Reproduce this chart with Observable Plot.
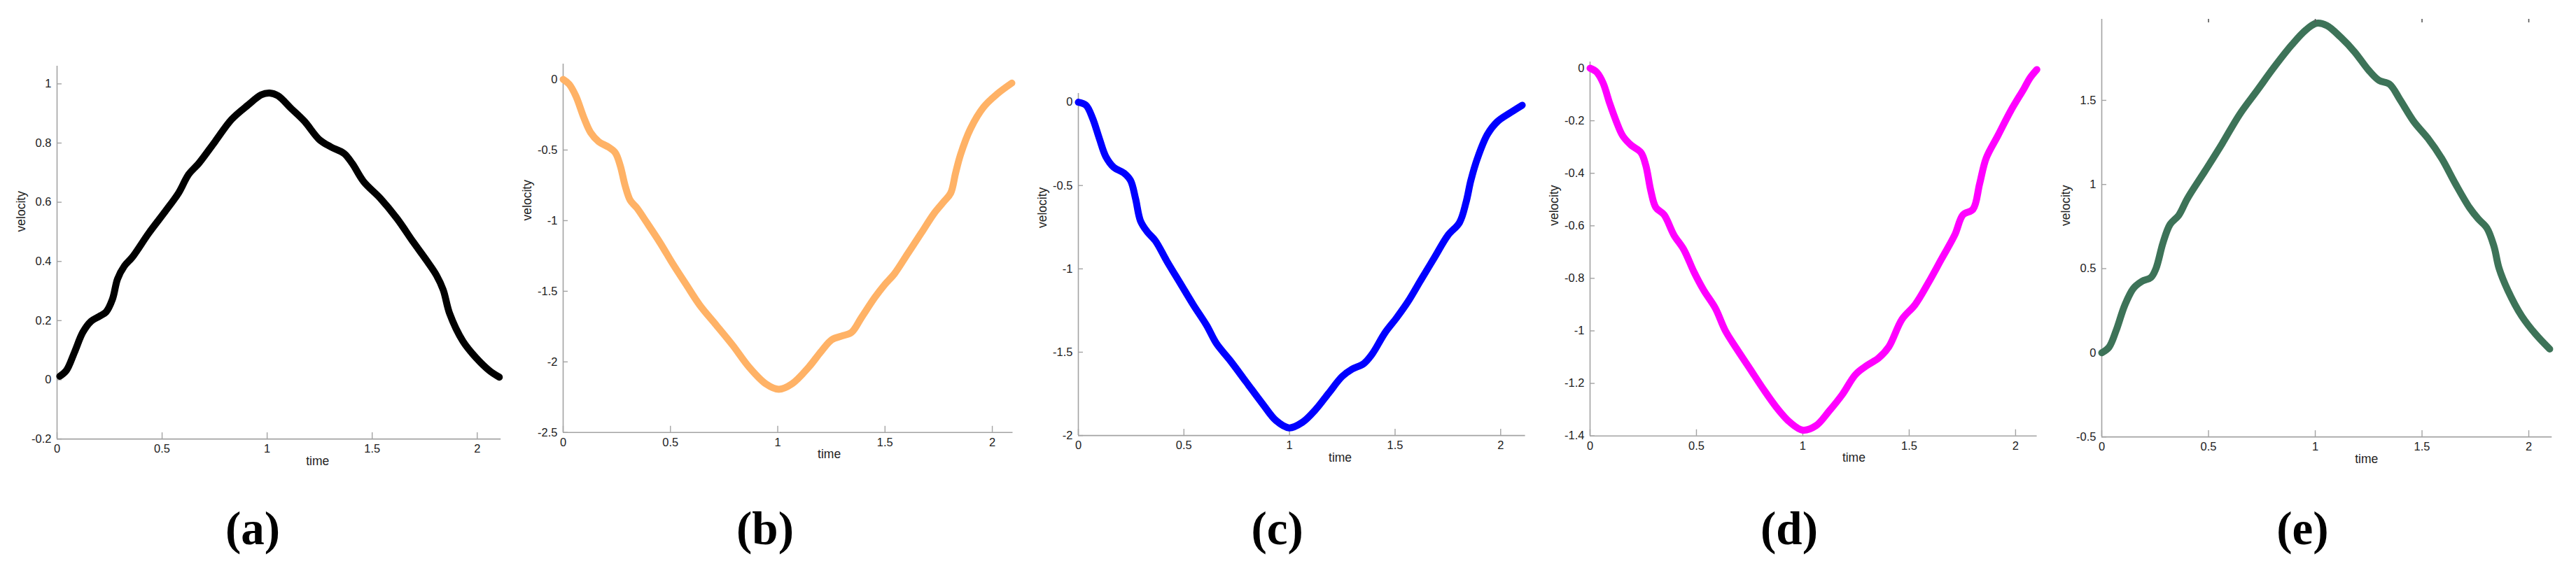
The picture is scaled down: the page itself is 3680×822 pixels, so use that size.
<!DOCTYPE html>
<html>
<head>
<meta charset="utf-8">
<script src="https://cdn.jsdelivr.net/npm/d3@7"></script>
<script src="https://cdn.jsdelivr.net/npm/@observablehq/plot@0.6"></script>
<style>
  html, body { margin: 0; padding: 0; background: #fff; }
  #root { position: relative; width: 3680px; height: 822px; background: #fff; overflow: hidden; }
  .panel { position: absolute; }
  .cap { position: absolute; font-family: "Liberation Serif", "Times New Roman", serif; font-weight: bold;
         font-size: 67px; line-height: 67px; white-space: nowrap; color: #000; transform: translateX(-50%); }
</style>
</head>
<body>
<div id="root"></div>
<script>
// ---------- data ----------
const timeA = [0.013, 0.044, 0.083, 0.123, 0.162, 0.2, 0.233, 0.264, 0.288, 0.32, 0.359, 0.437, 0.516, 0.579, 0.626, 0.674, 0.752, 0.831, 0.91, 0.972, 1.012, 1.051, 1.114, 1.177, 1.248, 1.303, 1.366, 1.405, 1.46, 1.539, 1.618, 1.696, 1.759, 1.806, 1.838, 1.869, 1.932, 1.995, 2.058, 2.105];
const velA  = [0.012, 0.031, 0.093, 0.161, 0.198, 0.214, 0.229, 0.273, 0.341, 0.384, 0.415, 0.496, 0.57, 0.632, 0.694, 0.731, 0.805, 0.88, 0.929, 0.963, 0.969, 0.96, 0.917, 0.874, 0.812, 0.787, 0.765, 0.731, 0.669, 0.613, 0.545, 0.465, 0.403, 0.353, 0.304, 0.223, 0.13, 0.074, 0.031, 0.009];

const timeB = [0, 0.028, 0.059, 0.097, 0.128, 0.166, 0.212, 0.243, 0.266, 0.289, 0.313, 0.343, 0.389, 0.451, 0.513, 0.574, 0.636, 0.713, 0.79, 0.867, 0.944, 1.005, 1.067, 1.144, 1.205, 1.252, 1.298, 1.344, 1.39, 1.452, 1.498, 1.544, 1.606, 1.668, 1.729, 1.775, 1.806, 1.829, 1.852, 1.898, 1.96, 2.022, 2.091];
const velB  = [0, -0.034, -0.117, -0.273, -0.376, -0.441, -0.48, -0.519, -0.61, -0.753, -0.857, -0.909, -1.012, -1.155, -1.311, -1.454, -1.597, -1.739, -1.882, -2.038, -2.155, -2.194, -2.155, -2.038, -1.921, -1.843, -1.817, -1.791, -1.687, -1.545, -1.454, -1.376, -1.233, -1.09, -0.948, -0.864, -0.805, -0.662, -0.532, -0.35, -0.195, -0.104, -0.026];

const timeC = [0, 0.036, 0.067, 0.099, 0.13, 0.169, 0.216, 0.247, 0.271, 0.294, 0.326, 0.365, 0.419, 0.482, 0.545, 0.607, 0.654, 0.717, 0.795, 0.873, 0.936, 0.998, 1.061, 1.124, 1.186, 1.249, 1.296, 1.351, 1.39, 1.453, 1.507, 1.562, 1.624, 1.687, 1.75, 1.805, 1.836, 1.859, 1.89, 1.937, 1.984, 2.047, 2.102];
const velC  = [0, -0.018, -0.095, -0.216, -0.326, -0.392, -0.425, -0.469, -0.579, -0.711, -0.777, -0.832, -0.953, -1.085, -1.217, -1.338, -1.448, -1.547, -1.679, -1.811, -1.91, -1.954, -1.921, -1.844, -1.745, -1.646, -1.602, -1.569, -1.514, -1.382, -1.294, -1.195, -1.063, -0.931, -0.799, -0.722, -0.601, -0.469, -0.337, -0.194, -0.117, -0.062, -0.018];

const timeD = [0, 0.03, 0.061, 0.092, 0.123, 0.154, 0.193, 0.239, 0.262, 0.286, 0.309, 0.348, 0.394, 0.441, 0.488, 0.534, 0.589, 0.635, 0.689, 0.752, 0.814, 0.876, 0.938, 1.0, 1.062, 1.124, 1.186, 1.248, 1.303, 1.357, 1.404, 1.466, 1.528, 1.59, 1.652, 1.714, 1.753, 1.8, 1.831, 1.862, 1.916, 1.978, 2.04, 2.068, 2.1];
const velD  = [0, -0.014, -0.056, -0.133, -0.202, -0.258, -0.293, -0.321, -0.37, -0.468, -0.53, -0.558, -0.635, -0.691, -0.775, -0.845, -0.914, -0.998, -1.068, -1.145, -1.221, -1.291, -1.347, -1.378, -1.361, -1.305, -1.242, -1.166, -1.131, -1.103, -1.061, -0.956, -0.9, -0.817, -0.726, -0.635, -0.558, -0.537, -0.44, -0.342, -0.258, -0.161, -0.077, -0.037, -0.005];

const timeE = [0, 0.034, 0.067, 0.108, 0.148, 0.189, 0.23, 0.254, 0.287, 0.32, 0.361, 0.401, 0.483, 0.564, 0.646, 0.728, 0.809, 0.891, 0.956, 1.005, 1.054, 1.119, 1.184, 1.25, 1.299, 1.348, 1.397, 1.462, 1.527, 1.592, 1.657, 1.723, 1.763, 1.804, 1.837, 1.861, 1.902, 1.967, 2.033, 2.098];
const velE  = [0, 0.033, 0.131, 0.283, 0.382, 0.425, 0.447, 0.501, 0.654, 0.763, 0.818, 0.916, 1.079, 1.243, 1.417, 1.559, 1.7, 1.831, 1.918, 1.958, 1.945, 1.875, 1.788, 1.679, 1.618, 1.596, 1.504, 1.373, 1.275, 1.155, 1.003, 0.861, 0.796, 0.741, 0.632, 0.501, 0.371, 0.218, 0.109, 0.022];

const ticksX = [0, 0.5, 1, 1.5, 2];
const ticksA = [-0.2, 0, 0.2, 0.4, 0.6, 0.8, 1];
const ticksB = [-2.5, -2, -1.5, -1, -0.5, 0];
const ticksC = [-2, -1.5, -1, -0.5, 0];
const ticksD = [-1.4, -1.2, -1, -0.8, -0.6, -0.4, -0.2, 0];
const ticksE = [-0.5, 0, 0.5, 1, 1.5];
const captions = ["(a)", "(b)", "(c)", "(d)", "(e)"];
const xLabel = "time";
const yLabel = "velocity";

// ---------- layout / style ----------
const panels = [
  {time: timeA, vel: velA, ticks: ticksA, cap: captions[0], color: "#000000",
   left: 81.2, right: 715.4, top: 94.4, bottom: 627.5, xmax: 2.113, ydomain: [-0.2, 1.06], ylab: 0.5, capX: 361},
  {time: timeB, vel: velB, ticks: ticksB, cap: captions[1], color: "#ffb266",
   left: 803.5, right: 1446, top: 90.7, bottom: 617.5, xmax: 2.096, ydomain: [-2.5, 0.109], ylab: -1.0, capX: 1093},
  {time: timeC, vel: velC, ticks: ticksC, cap: captions[2], color: "#0000ff",
   left: 1540, right: 2178.6, top: 132.6, bottom: 621.7, xmax: 2.117, ydomain: [-2, 0.053], ylab: -0.755, capX: 1824.6},
  {time: timeD, vel: velD, ticks: ticksD, cap: captions[3], color: "#ff00ff",
   left: 2271.4, right: 2910, top: 88, bottom: 622.7, xmax: 2.101, ydomain: [-1.4, 0.024], ylab: -0.6, capX: 2556},
  {time: timeE, vel: velE, ticks: ticksE, cap: captions[4], color: "#3d7358", topTicks: true,
   left: 3001.5, right: 3644.8, top: 26.7, bottom: 623.8, xmax: 2.109, ydomain: [-0.5, 1.982], ylab: 0.754, capX: 3289.5}
];
const xLabelAt = 1.24;
const axisColor = "#a3a3a3";
const textColor = "#222";
const ML = 90, MR = 30, MT = 20, MB = 60;
const root = document.getElementById("root");

for (const p of panels) {
  const plotW = p.right - p.left, plotH = p.bottom - p.top;
  const data = p.time.map((t, i) => ({t, v: p.vel[i]}));
  const marks = [
    Plot.ruleX([0], {stroke: axisColor, strokeWidth: 1.6}),
    Plot.ruleY([p.ydomain[0]], {stroke: axisColor, strokeWidth: 1.6}),
    Plot.tickY(p.ticks, {y: d => d, stroke: axisColor, strokeWidth: 1.4, insetRight: plotW - 7}),
    Plot.tickX(ticksX, {x: d => d, stroke: axisColor, strokeWidth: 1.4, insetTop: plotH - 9}),
    Plot.axisY(p.ticks, {tickSize: 0, tickPadding: 8, fontSize: 16.5, color: textColor,
                         tickFormat: d => String(d), label: null}),
    Plot.axisX(ticksX, {tickSize: 0, tickPadding: 8, fontSize: 16.5, color: textColor,
                        tickFormat: d => String(d), label: null}),
    Plot.line(data, {x: "t", y: "v", stroke: p.color, strokeWidth: 10, curve: "catmull-rom"}),
    Plot.text([xLabel], {x: xLabelAt, frameAnchor: "bottom", dy: 37, fontSize: 17.5, fill: textColor}),
    Plot.text([yLabel], {y: p.ylab, frameAnchor: "left", dx: -51, rotate: -90, fontSize: 17.5, fill: textColor})
  ];
  if (p.topTicks) {
    marks.push(Plot.tickX(ticksX.slice(1), {x: d => d, stroke: "#555", strokeWidth: 1.6, insetBottom: plotH - 5}));
  }
  const fig = Plot.plot({
    width: ML + plotW + MR, height: MT + plotH + MB,
    marginLeft: ML, marginRight: MR, marginTop: MT, marginBottom: MB,
    x: {domain: [0, p.xmax]},
    y: {domain: p.ydomain},
    style: {background: "transparent", overflow: "visible", maxWidth: "none",
            fontFamily: "'Liberation Sans', Arial, Helvetica, sans-serif"},
    marks
  });
  const wrap = document.createElement("div");
  wrap.className = "panel";
  wrap.style.left = (p.left - ML) + "px";
  wrap.style.top = (p.top - MT) + "px";
  wrap.appendChild(fig);
  root.appendChild(wrap);

  const cap = document.createElement("div");
  cap.className = "cap";
  cap.textContent = p.cap;
  cap.style.left = p.capX + "px";
  cap.style.top = (778 - 0.8375 * 67) + "px";
  root.appendChild(cap);
}
</script>
</body>
</html>
